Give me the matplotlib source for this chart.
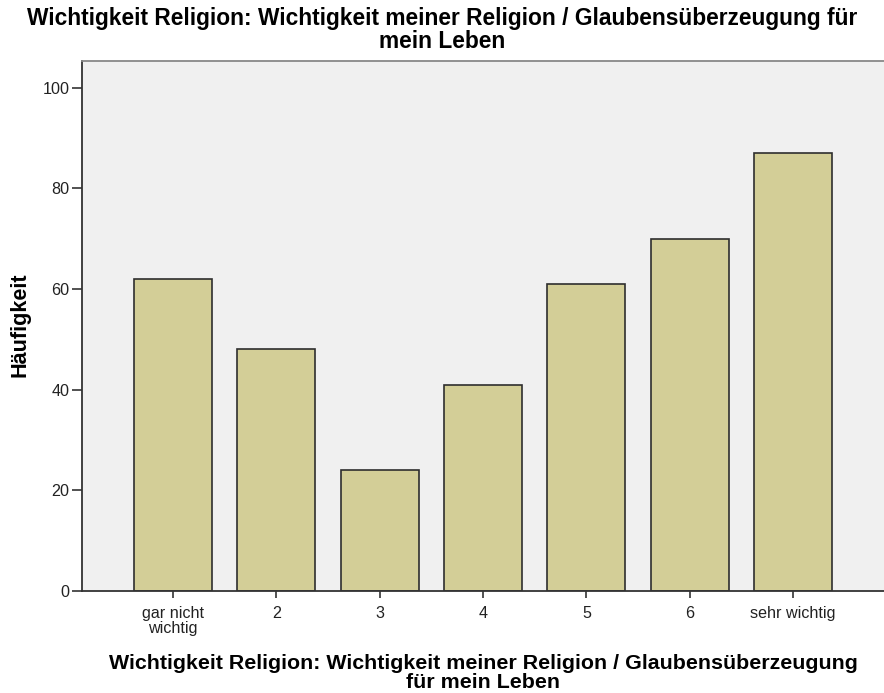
import matplotlib.pyplot as plt

categories = ["gar nicht\nwichtig", "2", "3", "4", "5", "6", "sehr wichtig"]
counts = [62, 48, 24, 41, 61, 70, 87]
y_ticks = [0, 20, 40, 60, 80, 100]

title = "Wichtigkeit Religion: Wichtigkeit meiner Religion / Glaubensüberzeugung für\nmein Leben"
x_label = "Wichtigkeit Religion: Wichtigkeit meiner Religion / Glaubensüberzeugung\nfür mein Leben"
y_label = "Häufigkeit"

plt.rcParams['font.family'] = ['Liberation Sans', 'DejaVu Sans']

W, H = 884, 693
fig = plt.figure(figsize=(W / 100, H / 100), dpi=100)
# plot area in pixels: left 82, right 884, top 61, bottom 591
ax = fig.add_axes([82 / W, 1 - 591 / H, (W - 82) / W, (591 - 61) / H])
ax.set_facecolor('#f0f0f0')

x = list(range(len(categories)))
ax.bar(x, counts, width=0.755, color='#d3ce97', edgecolor='#2e2e2e', linewidth=1.2, zorder=2)

ax.set_xlim(-0.88, 6.88)
ax.set_ylim(0, 105.3)
ax.set_yticks(y_ticks)
ax.set_xticks(x)
ax.set_xticklabels(categories, fontsize=11.6, linespacing=0.95, color='#222222')
ax.tick_params(axis='y', direction='out', length=7.5, width=1.2, labelsize=11.6, pad=1.5,
               labelcolor='#222222', color='#333333')
ax.tick_params(axis='x', direction='out', length=5, width=1.2, pad=6, color='#333333')

for side in ['left', 'bottom']:
    ax.spines[side].set_color('#333333')
    ax.spines[side].set_linewidth(1.3)
ax.spines['top'].set_color('#888888')
ax.spines['top'].set_linewidth(1.3)
ax.spines['right'].set_visible(False)

fig.text(20 / W, 1 - 325 / H, y_label, rotation=90, ha='center', va='center',
         fontsize=15.6, fontweight='bold')
fig.text(483 / W, 1 - 673 / H, x_label, ha='center', va='center',
         fontsize=15.4, fontweight='bold', linespacing=0.94)
fig.text(442 / W, 1 - 30 / H, title, ha='center', va='center',
         fontsize=16.4, fontweight='bold', linespacing=0.97)

fig.savefig('out.png', dpi=100)
